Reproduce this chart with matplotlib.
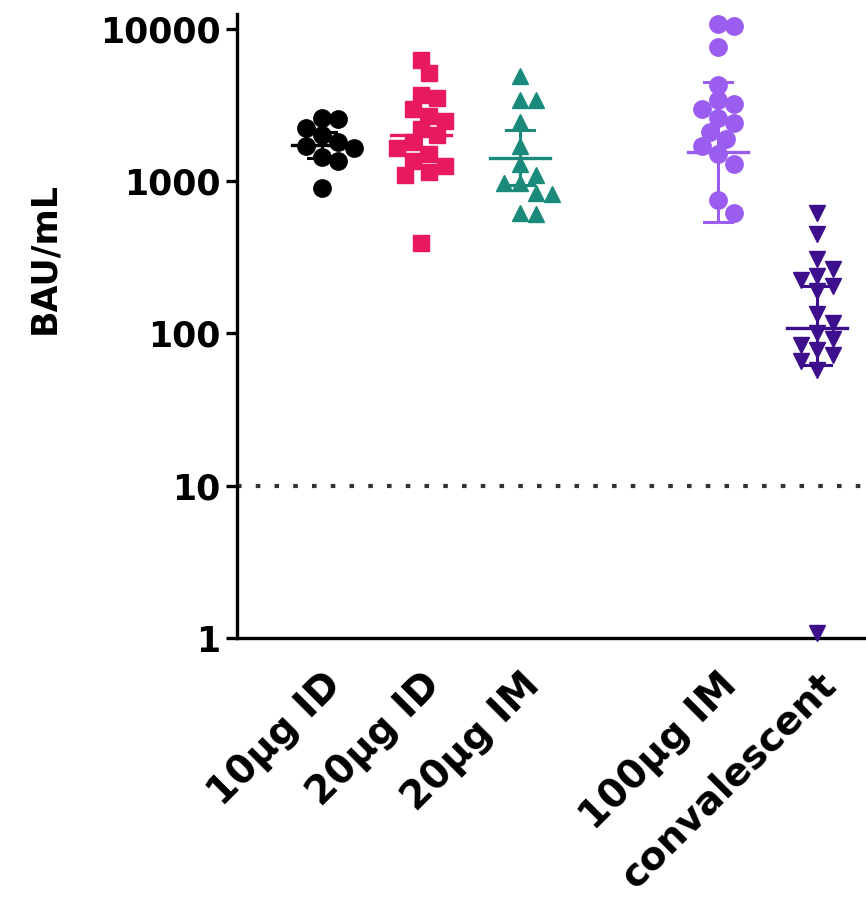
import matplotlib
matplotlib.use('Agg')
import matplotlib.pyplot as plt
import numpy as np

# groups, positions on the x axis (gap between 20µg IM and 100µg IM)
groups = ['10µg ID', '20µg ID', '20µg IM', '100µg IM', 'convalescent']
xpos = [0, 1, 2, 4, 5]
colors = ['#000000', '#e8195e', '#1b8a7a', '#9b5cf0', '#3d0f8c']
markers = ['o', 's', '^', 'o', 'v']

# individual values (BAU/mL)
vals_10_id = [2600, 2550, 2250, 2000, 1800, 1700, 1650, 1450, 1350, 900]
vals_20_id = [6250, 5100, 3700, 3500, 3000, 2700, 2500, 2200, 2000, 1800,
              1650, 1500, 1350, 1250, 1150, 1100, 390]
vals_20_im = [4900, 3400, 3400, 2450, 1700, 1300, 1100, 980, 970, 840, 830, 620, 610]
vals_100_im = [10800, 10400, 7600, 4300, 3400, 3200, 3000, 2600, 2400, 2100,
               1900, 1700, 1500, 1300, 750, 620]
vals_conv = [620, 450, 310, 265, 240, 225, 205, 190, 135, 118, 100, 92,
             84, 78, 72, 66, 58, 1.08]
all_vals = [vals_10_id, vals_20_id, vals_20_im, vals_100_im, vals_conv]

# geometric mean with 95% CI
gmean = [1730, 2000, 1420, 1560, 109]
ci_low = [1420, 1500, 945, 540, 62]
ci_high = [2100, 2700, 2170, 4490, 205]

threshold = 10


def swarm(values, dx, dy):
    # simple beeswarm: place each point at the smallest offset that does not overlap
    logs = np.log10(values)
    order = np.argsort(-logs)
    placed = []
    offs = np.zeros(len(values))
    cands = [0.0]
    for k in range(1, 12):
        cands += [k * 0.5 * dx, -k * 0.5 * dx]
    for i in order:
        for c in cands:
            ok = True
            for (px, py) in placed:
                if ((c - px) / dx) ** 2 + ((logs[i] - py) / dy) ** 2 < 1.0:
                    ok = False
                    break
            if ok:
                offs[i] = c
                placed.append((c, logs[i]))
                break
    return offs


fig = plt.figure(figsize=(8.66, 9.14), dpi=100)
ax = fig.add_axes([237 / 866, 1 - 638 / 914, 1 - 237 / 866, (638 - 14) / 914])
ax.set_yscale('log')
ax.set_ylim(1, 12540)
ax.set_xlim(-0.86, 5.495)

sizes = [12.5, 12, 11.5, 12.5, 12]
for i in range(len(groups)):
    v = np.array(all_vals[i])
    off = swarm(v, 0.16, 0.10)
    ax.plot(xpos[i] + off, v, linestyle='none', marker=markers[i], ms=sizes[i],
            color=colors[i], mec=colors[i], clip_on=False, zorder=3)
    # mean line and CI
    ax.plot([xpos[i] - 0.3, xpos[i] + 0.3], [gmean[i], gmean[i]], color=colors[i], lw=2.4, zorder=4)
    ax.plot([xpos[i], xpos[i]], [ci_low[i], ci_high[i]], color=colors[i], lw=2.2, zorder=4)
    for c in (ci_low[i], ci_high[i]):
        ax.plot([xpos[i] - 0.14, xpos[i] + 0.14], [c, c], color=colors[i], lw=2.2, zorder=4)

ax.axhline(threshold, color='#333333', lw=3, linestyle=(0, (1.1, 3.4)), dash_capstyle='butt', zorder=1)

for s in ['top', 'right']:
    ax.spines[s].set_visible(False)
for s in ['left', 'bottom']:
    ax.spines[s].set_linewidth(2.4)

ax.set_yticks([1, 10, 100, 1000, 10000])
ax.set_yticklabels(['1', '10', '100', '1000', '10000'])
ax.yaxis.set_minor_locator(matplotlib.ticker.NullLocator())
ax.tick_params(axis='y', length=8, width=2.4, pad=4, labelsize=25)
ax.set_xticks(xpos)
ax.set_xticklabels(groups, rotation=45, ha='right', rotation_mode='anchor')
ax.tick_params(axis='x', length=0, pad=20, labelsize=28)
for t in ax.get_xticklabels() + ax.get_yticklabels():
    t.set_fontweight('bold')

fig.text(44 / 866, 1 - 258 / 914, 'BAU/mL', rotation=90, ha='center', va='center',
         fontsize=25, fontweight='bold')

plt.savefig('out.png', dpi=100)
